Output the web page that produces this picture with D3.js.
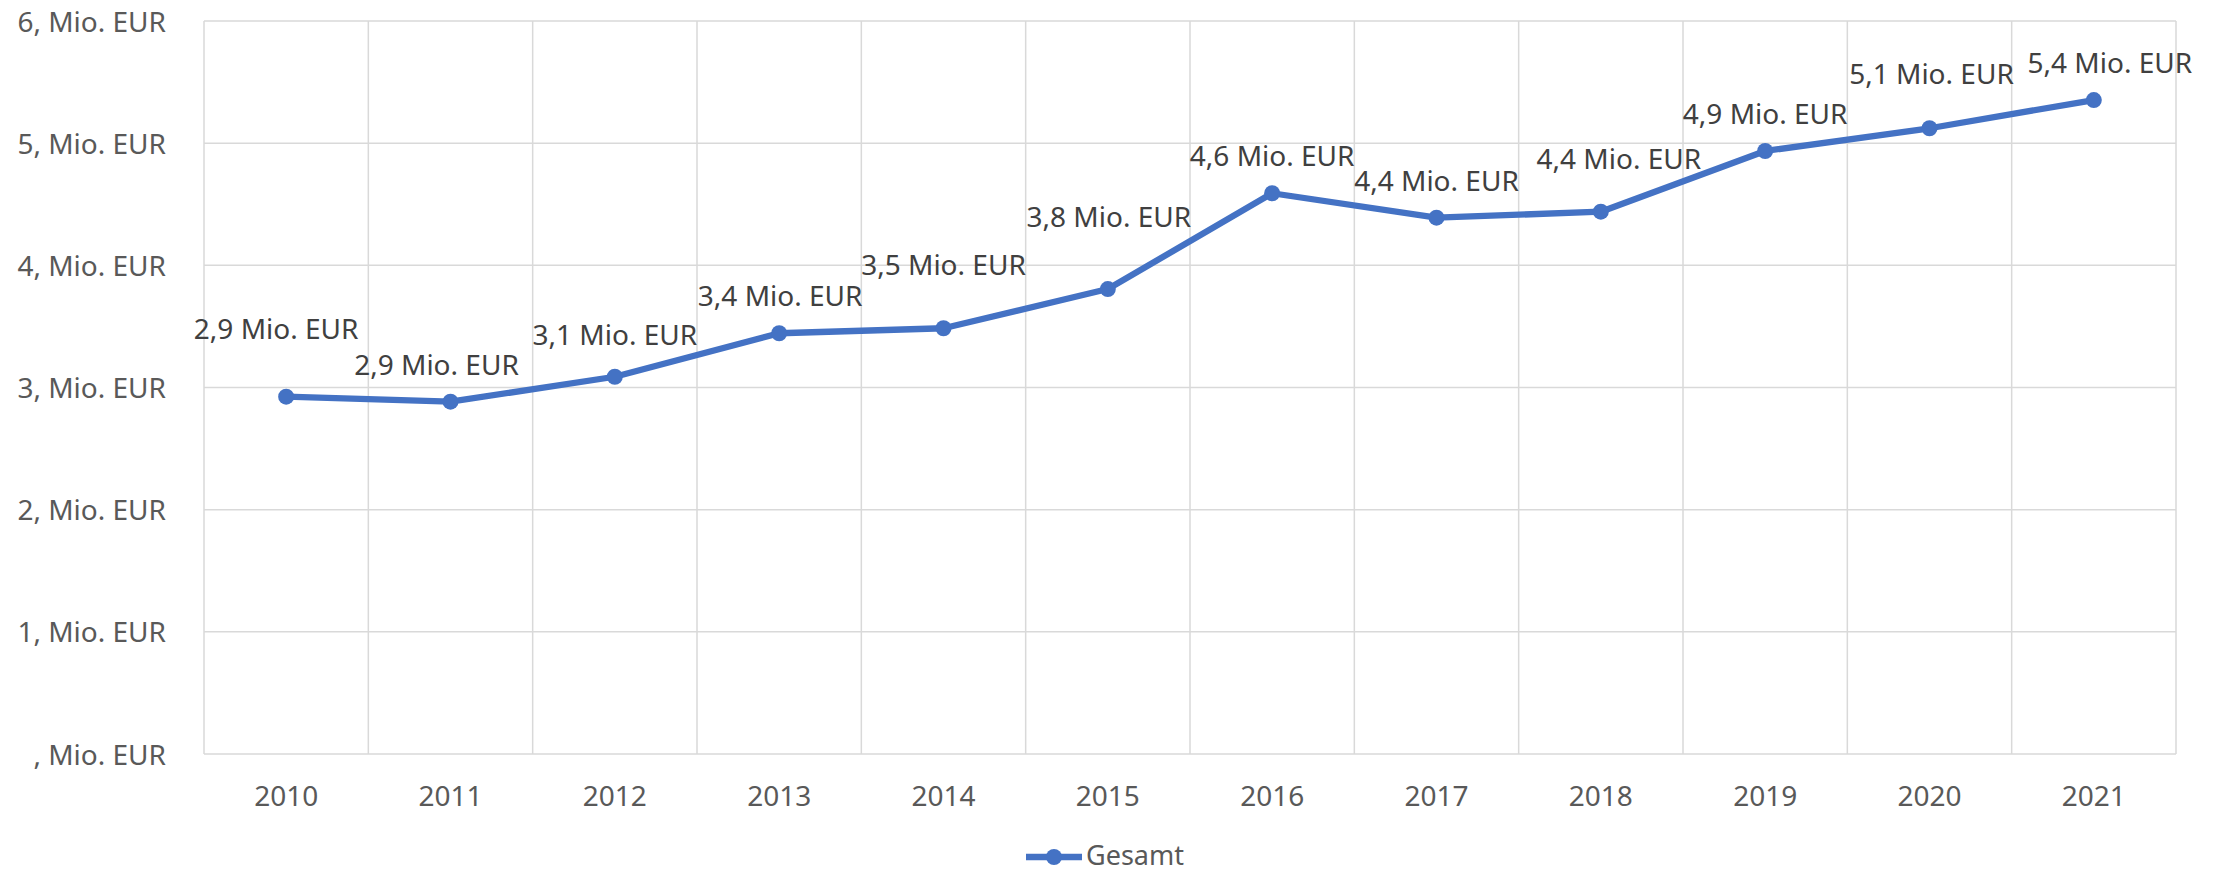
<!DOCTYPE html>
<html>
<head>
<meta charset="utf-8">
<script src="https://cdn.jsdelivr.net/npm/d3@7"></script>
<style>
  html, body { margin: 0; padding: 0; background: #fff; }
  svg { display: block; font-family: "Noto Sans", "Open Sans", sans-serif; }
</style>
</head>
<body>
<div id="chart"><svg width="2221" height="872"></svg></div>
<script>
const years = ['2010', '2011', '2012', '2013', '2014', '2015', '2016', '2017', '2018', '2019', '2020', '2021']
const gesamt = [2.925, 2.884, 3.088, 3.444, 3.485, 3.806, 4.590, 4.390, 4.439, 4.936, 5.122, 5.353]
const yTicks = [0, 1, 2, 3, 4, 5, 6]
const seriesName = 'Gesamt'

const svg = d3.select('#chart svg')

const blue = '#4472C4'
const grid = '#d9d9d9'

const x = d3.scaleBand()
    .domain(years)
    .range([204, 2176])
    .padding(0)

const y = d3.scaleLinear()
    .domain([0, 6])
    .range([754, 21])

// gridlines
svg.append('g')
    .selectAll('line')
    .data(yTicks)
    .join('line')
    .attr('x1', x.range()[0])
    .attr('x2', x.range()[1])
    .attr('y1', d => y(d))
    .attr('y2', d => y(d))
    .attr('stroke', grid)
    .attr('stroke-width', 1.5)

const bounds = years.map(d => x(d)).concat([x.range()[1]])
svg.append('g')
    .selectAll('line')
    .data(bounds)
    .join('line')
    .attr('x1', d => d)
    .attr('x2', d => d)
    .attr('y1', y(6))
    .attr('y2', y(0))
    .attr('stroke', grid)
    .attr('stroke-width', 1.5)

// axes
const yAxis = svg.append('g')
    .attr('transform', `translate(${x.range()[0]},0)`)
    .call(d3.axisLeft(y).tickValues(yTicks).tickSize(0).tickPadding(38)
        .tickFormat(d => (d === 0 ? '' : d) + ', Mio. EUR'))
yAxis.select('.domain').remove()
yAxis.selectAll('text')
    .attr('dy', '0.36em')
    .style('font-size', '28px')
    .style('font-family', '"Noto Sans", sans-serif')
    .attr('fill', '#595959')

const xAxis = svg.append('g')
    .attr('transform', `translate(0,${y(0)})`)
    .call(d3.axisBottom(x).tickSize(0).tickPadding(32))
xAxis.select('.domain').remove()
xAxis.selectAll('text')
    .style('font-size', '28px')
    .style('font-family', '"Noto Sans", sans-serif')
    .attr('fill', '#595959')

// line
const line = d3.line()
    .x((d, i) => x(years[i]) + x.bandwidth() / 2)
    .y(d => y(d))

svg.append('path')
    .datum(gesamt)
    .attr('d', line)
    .attr('fill', 'none')
    .attr('stroke', blue)
    .attr('stroke-width', 6.3)
    .attr('stroke-linejoin', 'round')

svg.append('g')
    .selectAll('circle')
    .data(gesamt)
    .join('circle')
    .attr('cx', (d, i) => x(years[i]) + x.bandwidth() / 2)
    .attr('cy', d => y(d))
    .attr('r', 8)
    .attr('fill', blue)

// data labels (some were dragged by hand in the original)
const labelNudge = [[-10, -31], [-14, 0], [0, -5], [1, 0], [0, -26], [1, -35],
    [0, 0], [0, 0], [18, -16], [0, 0], [2, -17], [16, 0]]

svg.append('g')
    .selectAll('text')
    .data(gesamt)
    .join('text')
    .text(d => d.toFixed(1).replace('.', ',') + ' Mio. EUR')
    .attr('x', (d, i) => x(years[i]) + x.bandwidth() / 2 + labelNudge[i][0])
    .attr('y', (d, i) => y(d) - 27 + labelNudge[i][1])
    .attr('text-anchor', 'middle')
    .style('font-size', '28px')
    .attr('fill', '#404040')

// legend
const legend = svg.append('g').attr('transform', 'translate(1026,857)')
legend.append('line')
    .attr('x1', 0).attr('x2', 56)
    .attr('stroke', blue)
    .attr('stroke-width', 6.3)
legend.append('circle')
    .attr('cx', 28)
    .attr('r', 8)
    .attr('fill', blue)
legend.append('text')
    .attr('x', 60)
    .attr('y', 8)
    .text(seriesName)
    .style('font-size', '27px')
    .attr('fill', '#595959')
</script>
</body>
</html>
